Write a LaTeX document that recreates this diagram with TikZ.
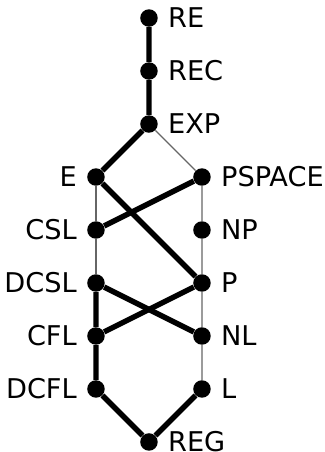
\documentclass[tikz,border=0pt]{standalone}
\usepackage{fontspec}
\setmainfont{DejaVu Sans}
\usetikzlibrary{calc,positioning}

\begin{document}
\begin{tikzpicture}[auto,scale=1,
		cls/.style={circle,fill=black,inner sep=0pt,minimum size=0.33cm},
		strict/.style={line width=2.9pt},
		weak/.style={line width=0.6pt,black!60},
		every label/.style={font=\fontsize{14.6}{17}\selectfont,inner sep=5.2pt}]
		\useasboundingbox (-2.811,-0.189) rectangle (3.321,8.340);
		% middle column
		\node[cls,label=right:RE] (re) at (0,8) {};
		\node[cls,label=right:REC] (rec) at (0,7) {};
		\node[cls,label=right:EXP] (exp) at (0,6) {};
		\node[cls,label=right:REG] (reg) at (0,0) {};
		% left column
		\node[cls,label=left:E] (e) at (-1,5) {};
		\node[cls,label=left:CSL] (csl) at (-1,4) {};
		\node[cls,label=left:DCSL] (dcsl) at (-1,3) {};
		\node[cls,label=left:CFL] (cfl) at (-1,2) {};
		\node[cls,label=left:DCFL] (dcfl) at (-1,1) {};
		% right column
		\node[cls,label=right:PSPACE] (pspace) at (1,5) {};
		\node[cls,label=right:NP] (np) at (1,4) {};
		\node[cls,label=right:P] (p) at (1,3) {};
		\node[cls,label=right:NL] (nl) at (1,2) {};
		\node[cls,label=right:L] (l) at (1,1) {};
		% thin inclusions
		\draw[weak] (exp) -- (pspace) -- (np) -- (p) -- (nl) -- (l);
		\draw[weak] (e) -- (csl) -- (dcsl);
		% thick inclusions
		\draw[strict] (re) -- (rec) -- (exp) -- (e) -- (p) -- (cfl);
		\draw[strict] (pspace) -- (csl);
		\draw[strict] (dcsl) -- (nl);
		\draw[strict] (dcsl) -- (cfl) -- (dcfl) -- (reg) -- (l);
		\end{tikzpicture}
\end{document}
